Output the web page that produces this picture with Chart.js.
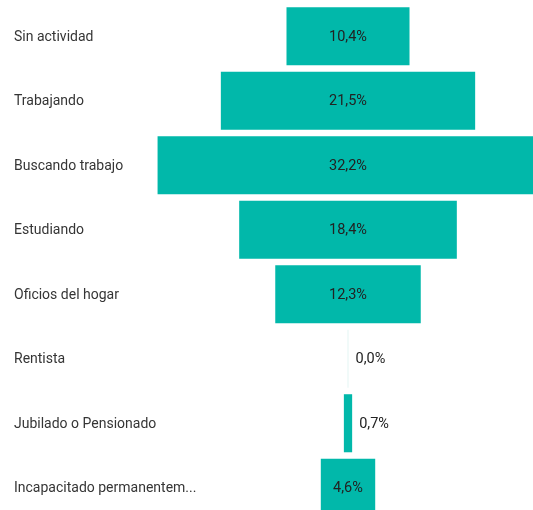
<!DOCTYPE html>
<html>
<head>
<meta charset="utf-8">
<script src="https://cdn.jsdelivr.net/npm/chart.js@4.4.1/dist/chart.umd.min.js"></script>
<style>
  html, body { margin: 0; padding: 0; background: #fff; overflow: hidden; }
  #wrap { width: 533px; height: 520px; }
</style>
</head>
<body>
<div id="wrap"><canvas id="funnel" width="533" height="520"></canvas></div>
<script>
// categories and shares (%)
const categories = [
  "Sin actividad",
  "Trabajando",
  "Buscando trabajo",
  "Estudiando",
  "Oficios del hogar",
  "Rentista",
  "Jubilado o Pensionado",
  "Incapacitado permanentem..."
];
const shares = [10.4, 21.5, 32.2, 18.4, 12.3, 0.0, 0.7, 4.6];

const teal = "#01B8AA";
const fontFamily = "Roboto, 'Liberation Sans', sans-serif";

// funnel: every bar centred on zero
const floating = shares.map(v => [-v / 2, v / 2]);

// category names on the left, value labels inside the bar (or right of it when too narrow)
const funnelLabels = {
  id: 'funnelLabels',
  afterDatasetsDraw(chart) {
    const ctx = chart.ctx;
    const meta = chart.getDatasetMeta(0);
    ctx.save();
    ctx.textBaseline = "middle";
    meta.data.forEach((bar, i) => {
      // category
      ctx.font = "14px " + fontFamily;
      ctx.fillStyle = "#353535";
      ctx.textAlign = "left";
      ctx.fillText(categories[i], 14, bar.y + 1);

      // value
      const txt = shares[i].toFixed(1).replace('.', ',') + '%';
      ctx.font = "14.5px " + fontFamily;
      ctx.fillStyle = "#222222";
      const w = ctx.measureText(txt).width;
      const left = Math.min(bar.x, bar.base);
      const right = Math.max(bar.x, bar.base);
      if (right - left > w + 8) {
        ctx.textAlign = "center";
        ctx.fillText(txt, (left + right) / 2, bar.y + 1);
      } else {
        ctx.textAlign = "left";
        ctx.fillText(txt, right + 7, bar.y + 1);
      }
    });
    ctx.restore();
  }
};

new Chart(document.getElementById('funnel').getContext('2d'), {
  type: 'bar',
  data: {
    labels: categories,
    datasets: [{
      data: floating,
      backgroundColor: shares.map(v => v === 0 ? '#e3f5f3' : teal),
      borderWidth: 0,
      minBarLength: 1,
      barPercentage: 0.9,
      categoryPercentage: 1
    }]
  },
  options: {
    indexAxis: 'y',
    responsive: false,
    animation: false,
    layout: { padding: { left: 150, top: 4, right: 0, bottom: 0 } },
    scales: {
      x: { display: false, min: -16.74, max: 15.64 },
      y: { display: false }
    },
    plugins: {
      legend: { display: false },
      tooltip: { enabled: false }
    }
  },
  plugins: [funnelLabels]
});
</script>
</body>
</html>
